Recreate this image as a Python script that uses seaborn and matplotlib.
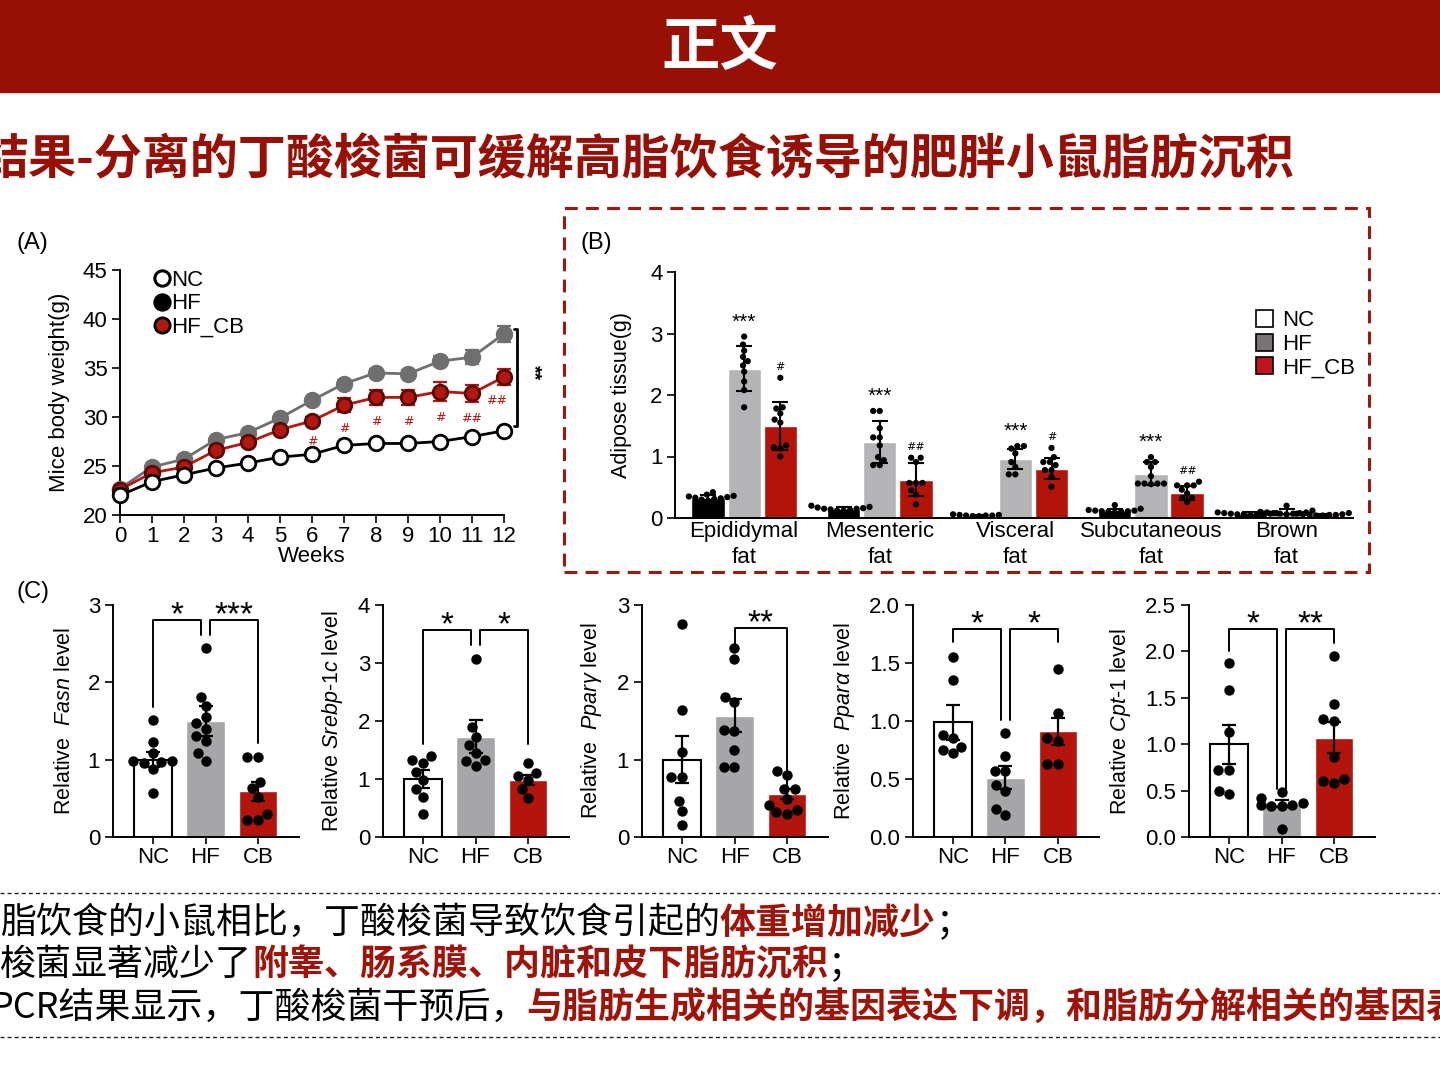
import numpy as np
import pandas as pd
import matplotlib
matplotlib.use("Agg")
import matplotlib.pyplot as plt
import seaborn as sns
from matplotlib.lines import Line2D
from matplotlib.patches import Patch, Rectangle

W, H = 1440, 1080
DARK_RED = "#981005"
TEXT_RED = "#a01308"

# ───────────── (A) body weight ─────────────
weeks = list(range(13))
nc_weight = [22.0, 23.4, 24.1, 24.8, 25.3, 25.9, 26.2, 27.1, 27.3, 27.3, 27.5, 28.0, 28.6]
hf_weight = [22.7, 24.9, 25.7, 27.7, 28.4, 29.9, 31.7, 33.4, 34.5, 34.4, 35.7, 36.1, 38.5]
cb_weight = [22.6, 24.3, 24.9, 26.6, 27.4, 28.7, 29.6, 31.2, 32.0, 32.0, 32.6, 32.4, 34.1]
nc_weight_err = [0.3, 0.3, 0.3, 0.3, 0.3, 0.3, 0.3, 0.3, 0.3, 0.3, 0.3, 0.3, 0.3]
hf_weight_err = [0.3, 0.3, 0.3, 0.3, 0.3, 0.3, 0.3, 0.4, 0.4, 0.4, 0.5, 0.73, 0.82]
cb_weight_err = [0.3, 0.3, 0.3, 0.3, 0.35, 0.4, 0.45, 0.73, 0.77, 0.75, 1.0, 0.88, 0.8]
cb_marks = ["", "", "", "", "", "", "#", "#", "#", "#", "#", "##", "##"]

# ───────────── (B) adipose tissue weight ─────────────
tissues = ["Epididymal\nfat", "Mesenteric\nfat", "Visceral\nfat", "Subcutaneous\nfat", "Brown\nfat"]
groups_b = ["NC", "HF", "HF_CB"]
b_mean_nc = [0.33, 0.15, 0.04, 0.12, 0.07]
b_mean_hf = [2.43, 1.24, 0.96, 0.72, 0.10]
b_mean_cb = [1.50, 0.62, 0.80, 0.41, 0.05]
b_sd_nc = [0.04, 0.03, 0.01, 0.03, 0.02]
b_sd_hf = [0.37, 0.34, 0.17, 0.19, 0.04]
b_sd_cb = [0.39, 0.27, 0.17, 0.11, 0.02]
b_pts_nc = [[0.42, 0.38, 0.36, 0.35, 0.34, 0.33, 0.32, 0.31, 0.30, 0.28],
            [0.20, 0.18, 0.17, 0.16, 0.15, 0.15, 0.14, 0.13, 0.12, 0.12],
            [0.06, 0.05, 0.05, 0.04, 0.04, 0.04, 0.03, 0.03],
            [0.21, 0.15, 0.13, 0.12, 0.12, 0.11, 0.11, 0.10, 0.10, 0.09],
            [0.09, 0.08, 0.08, 0.07, 0.07, 0.07, 0.06, 0.06, 0.06, 0.05]]
b_pts_hf = [[2.95, 2.82, 2.72, 2.62, 2.55, 2.48, 2.38, 2.22, 2.08, 1.80],
            [1.74, 1.74, 1.46, 1.31, 1.31, 1.18, 0.99, 0.94, 0.86, 0.86],
            [1.17, 1.17, 1.13, 1.05, 0.91, 0.83, 0.71, 0.71],
            [0.99, 0.91, 0.91, 0.83, 0.68, 0.56, 0.56, 0.56, 0.56, 0.55],
            [0.20, 0.12, 0.10, 0.09, 0.09, 0.08, 0.08, 0.07, 0.07, 0.06]]
b_pts_cb = [[2.28, 1.80, 1.78, 1.70, 1.60, 1.55, 1.18, 1.15, 1.13, 1.00],
            [0.98, 0.98, 0.91, 0.57, 0.57, 0.57, 0.45, 0.38, 0.22],
            [1.14, 0.99, 0.91, 0.91, 0.86, 0.78, 0.78, 0.67, 0.51],
            [0.59, 0.53, 0.53, 0.53, 0.46, 0.40, 0.33, 0.33, 0.26],
            [0.08, 0.07, 0.06, 0.06, 0.05, 0.05, 0.05, 0.04, 0.04]]
b_stars_hf = ["***", "***", "***", "***", ""]
b_stars_cb = ["#", "##", "#", "##", ""]

# ───────────── (C) relative gene expression ─────────────
c_groups = ["NC", "HF", "CB"]
fasn_mean, fasn_sem = [1.00, 1.50, 0.59], [0.10, 0.19, 0.12]
fasn_pts = [[1.51, 1.23, 1.08, 0.98, 0.97, 0.96, 0.98, 0.88, 0.57],
            [2.44, 1.81, 1.69, 1.55, 1.47, 1.40, 1.30, 1.24, 1.08, 0.98],
            [1.04, 1.04, 0.71, 0.63, 0.52, 0.30, 0.22, 0.22]]
srebp_mean, srebp_sem = [1.00, 1.73, 0.98], [0.16, 0.28, 0.085]
srebp_pts = [[1.40, 1.32, 1.28, 1.12, 0.98, 0.83, 0.69, 0.40],
             [3.07, 1.90, 1.73, 1.58, 1.44, 1.32, 1.31, 1.23],
             [1.28, 1.10, 1.05, 0.98, 0.83, 0.68]]
pparg_mean, pparg_sem = [1.00, 1.57, 0.55], [0.30, 0.21, 0.065]
pparg_pts = [[2.76, 1.64, 1.10, 0.78, 0.77, 0.47, 0.34, 0.15],
             [2.45, 2.30, 1.81, 1.75, 1.38, 1.37, 1.12, 0.91, 0.91],
             [0.85, 0.80, 0.62, 0.62, 0.49, 0.42, 0.35, 0.32, 0.30]]
ppara_mean, ppara_sem = [0.99, 0.51, 0.91], [0.15, 0.10, 0.12]
ppara_pts = [[1.55, 1.35, 0.88, 0.85, 0.78, 0.75, 0.72],
             [0.90, 0.70, 0.57, 0.57, 0.45, 0.40, 0.24, 0.19],
             [1.45, 1.07, 0.85, 0.83, 0.63, 0.63]]
cpt_mean, cpt_sem = [1.00, 0.36, 1.07], [0.21, 0.04, 0.17]
cpt_pts = [[1.87, 1.58, 1.13, 0.72, 0.72, 0.50, 0.46],
           [0.49, 0.42, 0.37, 0.35, 0.34, 0.33, 0.33, 0.09],
           [1.95, 1.43, 1.27, 1.25, 0.86, 0.63, 0.60, 0.58]]
# significance brackets: (left, right, top, left leg end, right leg end, label)
fasn_sig = [(0, 1, 2.80, 1.68, 2.61, "*"), (1, 2, 2.80, 2.61, 1.21, "***")]
srebp_sig = [(0, 1, 3.57, 1.61, 3.31, "*"), (1, 2, 3.57, 3.31, 1.61, "*")]
pparg_sig = [(1, 2, 2.70, 2.47, 0.61, "**")]
ppara_sig = [(0, 1, 1.79, 1.68, 1.01, "*"), (1, 2, 1.79, 1.01, 1.68, "*")]
cpt_sig = [(0, 1, 2.24, 2.00, 0.52, "*"), (1, 2, 2.24, 0.52, 2.09, "**")]

sns.set_theme(style="ticks", rc={
    "axes.linewidth": 1.4, "xtick.major.width": 1.2, "ytick.major.width": 1.2,
    "xtick.major.size": 5, "ytick.major.size": 5, "xtick.major.pad": 2,
    "ytick.major.pad": 3, "font.size": 16, "axes.labelsize": 15.5,
    "xtick.labelsize": 16, "ytick.labelsize": 16,
    "xtick.color": "black", "ytick.color": "black", "axes.edgecolor": "black",
    "axes.labelcolor": "black", "text.color": "black",
})
plt.rcParams["font.family"] = ["Liberation Sans", "Noto Sans CJK SC", "DejaVu Sans"]
plt.rcParams["mathtext.fontset"] = "custom"
plt.rcParams["mathtext.rm"] = "Liberation Sans"
plt.rcParams["mathtext.it"] = "Liberation Sans:italic"
plt.rcParams["mathtext.bf"] = "Liberation Sans:bold"
CJK = ["Noto Sans CJK SC", "DejaVu Sans"]


def box(l, t, r, b):
    """pixel box (left, top, right, bottom) -> figure fraction rect"""
    return [l / W, 1 - b / H, (r - l) / W, (b - t) / H]


fig = plt.figure(figsize=(W / 100, H / 100), dpi=100)

# header band + titles
fig.patches.append(Rectangle((0, 1 - 92 / H), 1, 92 / H, transform=fig.transFigure,
                             color=DARK_RED, zorder=0))
fig.text(0.5, 1 - 48 / H, "正文", color="white", fontsize=42, fontweight="bold",
         ha="center", va="center", family=CJK)
fig.text(-20 / W, 1 - 160 / H, "结果-分离的丁酸梭菌可缓解高脂饮食诱导的肥胖小鼠脂肪沉积",
         color=DARK_RED, fontsize=34.6, fontweight="bold", ha="left", va="center", family=CJK)

# ═════════════ (A) ═════════════
axA = fig.add_axes(box(120, 270, 504, 515))
series = [
    (hf_weight, hf_weight_err, "#6f6f6f", "#6f6f6f", "#6f6f6f", 3),
    (cb_weight, cb_weight_err, "#b2180f", "#b2180f", "#5c0a05", 4),
    (nc_weight, nc_weight_err, "black", "white", "black", 5),
]
for vals, err, col, mfc, mec, z in series:
    axA.errorbar(weeks, vals, yerr=err, fmt="none", ecolor=col, elinewidth=1.6,
                 capsize=5, capthick=1.6, clip_on=False, zorder=z)
    sns.lineplot(x=weeks, y=vals, ax=axA, color=col, lw=2.0, marker="o", markersize=10.5,
                 markerfacecolor=mfc, markeredgecolor=mec, markeredgewidth=2.0,
                 clip_on=False, zorder=z + 0.5)
for wk, v, e, m in zip(weeks, cb_weight, cb_weight_err, cb_marks):
    if m:
        dx = -0.22 if wk == 12 else 0
        axA.text(wk + dx, v - e - 1.0, m, color="#b2180f", fontsize=9, ha="center",
                 va="top", family="DejaVu Sans")
axA.set_xlim(0, 12)
axA.set_ylim(20, 45)
axA.set_xticks(weeks)
axA.set_yticks([20, 25, 30, 35, 40, 45])
axA.tick_params(length=6)
axA.set_xlabel("Weeks", labelpad=-1, fontsize=16)
axA.set_ylabel("Mice body weight(g)", labelpad=9, fontsize=16)
sns.despine(ax=axA)
# bracket between HF and NC at week 12
bx = 12.42
axA.plot([bx - 0.12, bx, bx, bx - 0.12], [hf_weight[-1] + 0.5, hf_weight[-1] + 0.5,
         nc_weight[-1] + 0.5, nc_weight[-1] + 0.5], color="black", lw=2.0, clip_on=False)
axA.text(bx + 0.5, (hf_weight[-1] + nc_weight[-1]) / 2 + 1.0, "**", rotation=-90,
         ha="center", va="center", fontsize=14, fontweight="bold")
legA = [Line2D([], [], ls="none", marker="o", ms=11, mfc="white", mec="black", mew=2.2),
        Line2D([], [], ls="none", marker="o", ms=11, mfc="black", mec="black", mew=2.2),
        Line2D([], [], ls="none", marker="o", ms=11, mfc="#b2180f", mec="black", mew=2.0)]
axA.legend(legA, ["NC", "HF", "HF_CB"], loc="upper left", bbox_to_anchor=(0.06, 1.045),
           frameon=False, handlelength=0.7, handletextpad=0.05, labelspacing=0.1,
           borderpad=0, fontsize=16)
fig.text(16 / W, 1 - 243 / H, "(A)", fontsize=17, ha="left", va="center")

# ═════════════ (B) ═════════════
axB = fig.add_axes(box(675, 272, 1353, 518))
# NC bars read as solid black in the source: their dots pile up over the bar
b_colors = {"NC": "black", "HF": "#b4b4b6", "HF_CB": "#b2140a"}
rows, pts_rows = [], []
for ti, tissue in enumerate(tissues):
    for g, m, pts in zip(groups_b, [b_mean_nc[ti], b_mean_hf[ti], b_mean_cb[ti]],
                         [b_pts_nc[ti], b_pts_hf[ti], b_pts_cb[ti]]):
        rows.append((tissue, g, m))
        pts_rows += [(tissue, g, v) for v in pts]
b_summary = pd.DataFrame(rows, columns=["tissue", "group", "mean"])
b_points = pd.DataFrame(pts_rows, columns=["tissue", "group", "value"])

sns.barplot(data=b_summary, x="tissue", y="mean", hue="group", order=tissues,
            hue_order=groups_b, palette=b_colors, width=0.8, gap=0.08, errorbar=None,
            saturation=1, legend=False, ax=axB)
each = 0.8 / 3
offsets = [-each, 0, each]
xs = np.arange(len(tissues))
for off, means, sds in zip(offsets, [b_mean_nc, b_mean_hf, b_mean_cb],
                           [b_sd_nc, b_sd_hf, b_sd_cb]):
    axB.errorbar(xs + off, means, yerr=sds, fmt="none", ecolor="black", elinewidth=1.5,
                 capsize=6, capthick=1.5, zorder=4)
sns.swarmplot(data=b_points, x="tissue", y="value", hue="group", order=tissues,
              hue_order=groups_b, dodge=True, palette=["black"] * 3, size=4.5,
              legend=False, ax=axB, zorder=5, warn_thresh=1)
for ti in range(len(tissues)):
    if b_stars_hf[ti]:
        axB.text(ti, max(b_pts_hf[ti]) + 0.08, b_stars_hf[ti], ha="center", va="bottom",
                 fontsize=15)
    if b_stars_cb[ti]:
        axB.text(ti + each, max(b_pts_cb[ti]) + 0.1, b_stars_cb[ti], ha="center",
                 va="bottom", fontsize=8, family="DejaVu Sans")
axB.set_xlim(-0.51, 4.49)
axB.set_ylim(0, 4)
axB.set_yticks([0, 1, 2, 3, 4])
axB.tick_params(axis="x", length=0, pad=2)
axB.tick_params(axis="y", length=6)
for t in axB.get_xticklabels():
    t.set_linespacing(1.35)
axB.set_xlabel("")
axB.set_ylabel("Adipose tissue(g)", labelpad=13)
sns.despine(ax=axB)
legB = [Patch(facecolor="white", edgecolor="black", lw=1.2),
        Patch(facecolor="#7b7373", edgecolor="black", lw=1.2),
        Patch(facecolor="#c01420", edgecolor="black", lw=1.2)]
axB.legend(legB, groups_b, loc="upper left", bbox_to_anchor=(0.84, 0.89), frameon=False,
           handlelength=0.8, handleheight=0.8, handletextpad=0.4, labelspacing=0.1,
           borderpad=0, fontsize=16)
fig.text(580 / W, 1 - 243 / H, "(B)", fontsize=17, ha="left", va="center")
fig.patches.append(Rectangle((564 / W, 1 - 572 / H), (1369 - 564) / W, (572 - 208) / H,
                             transform=fig.transFigure, fill=False, edgecolor="#9b1a10",
                             lw=2.2, ls=(0, (4.2, 2.7))))

# ═════════════ (C) ═════════════
c_colors = {"NC": "white", "HF": "#a6a6a9", "CB": "#b3140c"}
panels = [
    (r"Relative  $\mathit{Fasn}$ level", fasn_mean, fasn_sem, fasn_pts, fasn_sig, 3,
     [0, 1, 2, 3], "{:.0f}", 153),
    (r"Relative $\mathit{Srebp}$-$\mathit{1c}$ level", srebp_mean, srebp_sem, srebp_pts,
     srebp_sig, 4, [0, 1, 2, 3, 4], "{:.0f}", 423),
    (r"Relative  $\mathit{Ppar\gamma}$ level", pparg_mean, pparg_sem, pparg_pts,
     pparg_sig, 3, [0, 1, 2, 3], "{:.0f}", 682),
    (r"Relative  $\mathit{Ppar\alpha}$ level", ppara_mean, ppara_sem, ppara_pts,
     ppara_sig, 2, [0, 0.5, 1.0, 1.5, 2.0], "{:.1f}", 953),
    (r"Relative $\mathit{Cpt}$-$\mathit{1}$ level", cpt_mean, cpt_sem, cpt_pts, cpt_sig,
     2.5, [0, 0.5, 1.0, 1.5, 2.0, 2.5], "{:.1f}", 1229),
]
step = 52.5
for label, mean, sem, pts, sig, ymax, ticks, fmt, x0 in panels:
    ax = fig.add_axes(box(x0 - 0.77 * step, 605, x0 + 2.78 * step, 837))
    df = pd.DataFrame({"group": np.repeat(c_groups, [len(p) for p in pts]),
                       "value": np.concatenate(pts)})
    sns.barplot(x=c_groups, y=mean, hue=c_groups, palette=c_colors, width=0.74,
                saturation=1, errorbar=None, legend=False, ax=ax)
    for p in ax.patches:
        if p.get_facecolor()[:3] == (1.0, 1.0, 1.0):
            p.set_edgecolor("black")
            p.set_linewidth(1.5)
    ax.errorbar([0, 1, 2], mean, yerr=sem, fmt="none", ecolor="black", elinewidth=1.6,
                capsize=5, capthick=1.6, zorder=4)
    sns.swarmplot(data=df, x="group", y="value", order=c_groups, color="black", size=7.5,
                  ax=ax, zorder=5, warn_thresh=1)
    shared = len(sig) == 2
    for a, b, top, ya, yb, lab in sig:
        xa = a + (0.09 if shared and a == 1 else 0)
        xb = b - (0.09 if shared and b == 1 else 0)
        ax.plot([xa, xa, xb, xb], [ya, top, top, yb], color="black", lw=1.4, clip_on=False)
        ax.text((xa + xb) / 2, top - 0.017 * ymax, lab, ha="center", va="baseline",
                fontsize=24, clip_on=False)
    ax.set_xlim(-0.77, 2.78)
    ax.set_ylim(0, ymax)
    ax.set_yticks(ticks)
    ax.set_yticklabels([fmt.format(t) for t in ticks])
    ax.tick_params(axis="y", length=6)
    ax.set_xlabel("")
    ax.set_ylabel(label, labelpad=9)
    sns.despine(ax=ax)
fig.text(16 / W, 1 - 592 / H, "(C)", fontsize=17, ha="left", va="center")

# ═════════════ summary text ═════════════
for y in (893, 1037):
    fig.add_artist(Line2D([0, 1], [1 - y / H, 1 - y / H], transform=fig.transFigure,
                          color="#222222", lw=1.0, ls=(0, (2.9, 2.2))))
lines = [
    (0, 923, [("脂饮食的小鼠相比，丁酸梭菌导致饮食引起的", "black", "normal"),
              ("体重增加减少", TEXT_RED, "bold"), ("；", "black", "normal")]),
    (0, 965, [("梭菌显著减少了", "black", "normal"),
              ("附睾、肠系膜、内脏和皮下脂肪沉积", TEXT_RED, "bold"), ("；", "black", "normal")]),
    (-10, 1008, [("PCR结果显示，丁酸梭菌干预后，", "black", "normal"),
                 ("与脂肪生成相关的基因表达下调，和脂肪分解相关的基因表达上调", TEXT_RED, "bold")]),
]
renderer = fig.canvas.get_renderer()
for x, y, parts in lines:
    for s, col, wt in parts:
        t = fig.text(x / W, 1 - y / H, s, color=col, fontsize=25.9, fontweight=wt,
                     ha="left", va="center", family=CJK)
        x += t.get_window_extent(renderer=renderer).width

fig.savefig("out.png", dpi=100)
